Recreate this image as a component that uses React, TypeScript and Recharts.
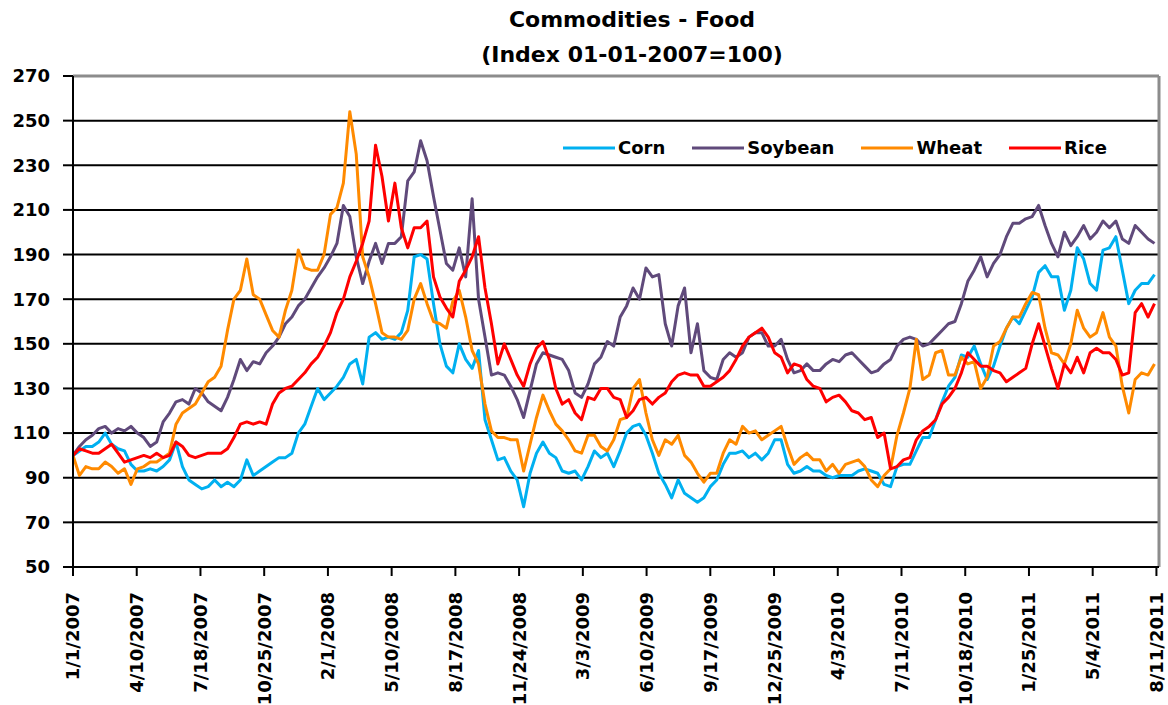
import React from 'react';
import { LineChart, Line, XAxis, YAxis, CartesianGrid, ReferenceLine } from 'recharts';

// ---- data (index 01-01-2007 = 100), sampled every 10 days from 1/1/2007 ----
const DAY_STEP = 10;

const xTickLabels = [
  '1/1/2007', '4/10/2007', '7/18/2007', '10/25/2007', '2/1/2008', '5/10/2008',
  '8/17/2008', '11/24/2008', '3/3/2009', '6/10/2009', '9/17/2009', '12/25/2009',
  '4/3/2010', '7/11/2010', '10/18/2010', '1/25/2011', '5/4/2011', '8/11/2011',
];

const yTicks = [50, 70, 90, 110, 130, 150, 170, 190, 210, 230, 250, 270];

const corn = [
  100, 102, 104, 104, 106, 110, 105, 103, 102, 96,
  93, 93, 94, 93, 95, 98, 106, 95, 89, 87,
  85, 86, 89, 86, 88, 86, 89, 98, 91, 93,
  95, 97, 99, 99, 101, 110, 114, 122, 130, 125,
  128, 131, 135, 141, 143, 132, 153, 155, 152, 153,
  152, 155, 165, 189, 190, 188, 168, 150, 140, 137,
  150, 143, 139, 147, 116, 107, 98, 99, 93, 89,
  77, 92, 101, 106, 101, 99, 93, 92, 93, 89,
  95, 102, 99, 101, 95, 102, 110, 113, 114, 109,
  101, 92, 87, 81, 89, 83, 81, 79, 81, 86,
  89, 96, 101, 101, 102, 99, 101, 98, 101, 107,
  107, 96, 92, 93, 95, 93, 93, 91, 90, 91,
  91, 91, 93, 94, 93, 92, 87, 86, 95, 96,
  96, 102, 108, 108, 116, 124, 131, 135, 145, 144,
  149, 141, 134, 140, 149, 157, 162, 159, 165, 171,
  182, 185, 180, 180, 165, 174, 193, 188, 177, 174,
  192, 193, 198, 183, 168, 174, 177, 177, 181,
];

const soybean = [
  100, 104, 107, 109, 112, 113, 110, 112, 111, 113,
  110, 108, 104, 106, 115, 119, 124, 125, 123, 130,
  128, 124, 122, 120, 126, 134, 143, 138, 142, 141,
  146, 149, 153, 159, 162, 167, 170, 175, 180, 184,
  189, 195, 212, 207, 189, 177, 187, 195, 186, 195,
  195, 198, 223, 227, 241, 232, 216, 201, 186, 183,
  193, 180, 215, 170, 153, 136, 137, 136, 131, 125,
  117, 129, 141, 146, 145, 144, 143, 138, 128, 126,
  132, 141, 144, 151, 149, 162, 167, 175, 170, 184,
  180, 181, 159, 149, 167, 175, 146, 159, 138, 135,
  134, 143, 146, 144, 146, 153, 155, 155, 149, 149,
  152, 143, 137, 138, 141, 138, 138, 141, 143, 142,
  145, 146, 143, 140, 137, 138, 141, 143, 149, 152,
  153, 152, 149, 150, 153, 156, 159, 160, 168, 178,
  183, 189, 180, 186, 190, 198, 204, 204, 206, 207,
  212, 203, 195, 189, 200, 194, 198, 203, 197, 200,
  205, 202, 205, 197, 195, 203, 200, 197, 195,
];

const wheat = [
  100, 91, 95, 94, 94, 97, 95, 92, 94, 87,
  94, 95, 97, 97, 99, 101, 114, 119, 121, 123,
  128, 133, 135, 140, 156, 170, 174, 188, 172, 170,
  163, 156, 153, 165, 174, 192, 184, 183, 183, 190,
  208, 211, 222, 254, 235, 189, 180, 168, 155, 153,
  153, 152, 156, 170, 177, 168, 160, 159, 157, 169,
  174, 162, 147, 141, 123, 111, 108, 108, 107, 107,
  93, 105, 117, 127, 120, 114, 111, 107, 102, 101,
  109, 109, 104, 102, 107, 116, 117, 130, 134, 119,
  107, 100, 107, 105, 109, 100, 97, 92, 88, 92,
  92, 101, 107, 105, 113, 110, 111, 107, 109, 111,
  113, 104, 96, 99, 101, 98, 98, 93, 96, 92,
  96, 97, 98, 95, 89, 86, 91, 94, 109, 119,
  130, 152, 134, 136, 146, 147, 136, 136, 144, 141,
  142, 130, 135, 149, 151, 157, 162, 162, 168, 173,
  172, 157, 146, 145, 141, 150, 165, 157, 153, 155,
  164, 153, 149, 131, 119, 134, 137, 136, 141,
];

const rice = [
  100, 103, 102, 101, 101, 103, 105, 101, 97, 98,
  99, 100, 99, 101, 99, 100, 106, 104, 100, 99,
  100, 101, 101, 101, 103, 108, 114, 115, 114, 115,
  114, 123, 128, 130, 131, 134, 137, 141, 144, 149,
  155, 164, 170, 180, 187, 195, 205, 239, 225, 205,
  222, 202, 193, 202, 202, 205, 180, 171, 166, 162,
  178, 183, 189, 198, 175, 159, 141, 150, 143, 136,
  131, 141, 148, 151, 143, 130, 123, 125, 119, 116,
  126, 125, 130, 130, 126, 125, 117, 120, 125, 126,
  123, 126, 128, 133, 136, 137, 136, 136, 131, 131,
  133, 135, 138, 143, 149, 153, 155, 157, 153, 146,
  144, 137, 141, 140, 134, 131, 130, 124, 126, 127,
  124, 120, 119, 116, 117, 108, 110, 94, 95, 98,
  99, 107, 111, 113, 116, 123, 126, 130, 137, 146,
  143, 140, 140, 138, 137, 133, 135, 137, 139, 150,
  159, 149, 139, 130, 141, 137, 144, 137, 146, 148,
  146, 146, 143, 136, 137, 164, 168, 162, 168,
];

const seriesNames = ['Corn', 'Soybean', 'Wheat', 'Rice'];
const seriesKeys = ['corn', 'soybean', 'wheat', 'rice'];
const seriesColors = ['#00B0F0', '#604A7B', '#FF8A00', '#FF0000'];

// ---- derived ----
const START = Date.UTC(2007, 0, 1);
const dayOf = (label: string) => {
  const [m, d, y] = label.split('/').map(Number);
  return Math.round((Date.UTC(y, m - 1, d) - START) / 86400000);
};
const xTicks = xTickLabels.map(dayOf);
const labelByDay: Record<number, string> = {};
xTicks.forEach((d, i) => { labelByDay[d] = xTickLabels[i]; });
const X_MAX = xTicks[xTicks.length - 1] + 4;

const data = corn.map((v, i) => ({
  day: i * DAY_STEP,
  corn: v,
  soybean: soybean[i],
  wheat: wheat[i],
  rice: rice[i],
}));

const FONT = '"DejaVu Sans", sans-serif';

const XTick = (props: any) => {
  const { x, y, payload } = props;
  return (
    <text
      x={x}
      y={y}
      transform={`rotate(-90 ${x} ${y})`}
      textAnchor="end"
      dy="0.36em"
      fill="#000"
      fontSize={18}
      fontWeight="bold"
      fontFamily={FONT}
    >
      {labelByDay[payload.value]}
    </text>
  );
};

export default function App() {
  return (
    <div style={{ position: 'absolute', left: 0, top: 0, width: 1168, height: 705, background: '#fff' }}>
      <LineChart
        width={1168}
        height={705}
        data={data}
        margin={{ top: 76, right: 9, bottom: 38, left: 13 }}
        style={{ position: 'absolute', left: 0, top: 0 }}
      >
        <CartesianGrid
          vertical={false}
          stroke="#000"
          strokeWidth={2}
          horizontalValues={yTicks.slice(1, -1)}
        />
        <XAxis
          dataKey="day"
          type="number"
          domain={[0, X_MAX]}
          ticks={xTicks}
          interval={0}
          allowDataOverflow
          height={100}
          tickSize={9}
          tickMargin={16}
          axisLine={{ stroke: '#000', strokeWidth: 2 }}
          tickLine={{ stroke: '#000', strokeWidth: 2 }}
          tick={<XTick />}
        />
        <YAxis
          type="number"
          domain={[50, 270]}
          ticks={yTicks}
          interval={0}
          allowDataOverflow
          width={60}
          tickSize={10}
          tickMargin={13}
          axisLine={{ stroke: '#000', strokeWidth: 2 }}
          tickLine={{ stroke: '#000', strokeWidth: 2 }}
          tick={{ fill: '#000', fontSize: 18, fontWeight: 'bold', fontFamily: FONT }}
        />
        <ReferenceLine y={270} stroke="#8c8c8c" strokeWidth={3} />
        <ReferenceLine x={X_MAX} stroke="#8c8c8c" strokeWidth={3} />
        {seriesKeys.map((k, i) => (
          <Line
            key={k}
            type="linear"
            dataKey={k}
            name={seriesNames[i]}
            stroke={seriesColors[i]}
            strokeWidth={3}
            strokeLinejoin="round"
            dot={false}
            activeDot={false}
            isAnimationActive={false}
          />
        ))}
      </LineChart>
      <div
        style={{
          position: 'absolute', left: 432, top: 2, width: 400, textAlign: 'center',
          fontFamily: FONT, fontWeight: 'bold', fontSize: 22, lineHeight: '35px', color: '#000',
        }}
      >
        <div>Commodities - Food</div>
        <div>(Index 01-01-2007=100)</div>
      </div>
      <div
        style={{
          position: 'absolute', top: 138, left: 563, display: 'flex', alignItems: 'center',
          fontFamily: FONT, fontWeight: 'bold', fontSize: 18, lineHeight: '20px', color: '#000',
        }}
      >
        {seriesNames.map((name, i) => (
          <div key={name} style={{ display: 'flex', alignItems: 'center', marginRight: 27 }}>
            <svg width={52} height={6} style={{ display: 'block' }}>
              <line x1={0} y1={3} x2={52} y2={3} stroke={seriesColors[i]} strokeWidth={3} />
            </svg>
            <span style={{ marginLeft: 3, whiteSpace: 'nowrap' }}>{name}</span>
          </div>
        ))}
      </div>
    </div>
  );
}
